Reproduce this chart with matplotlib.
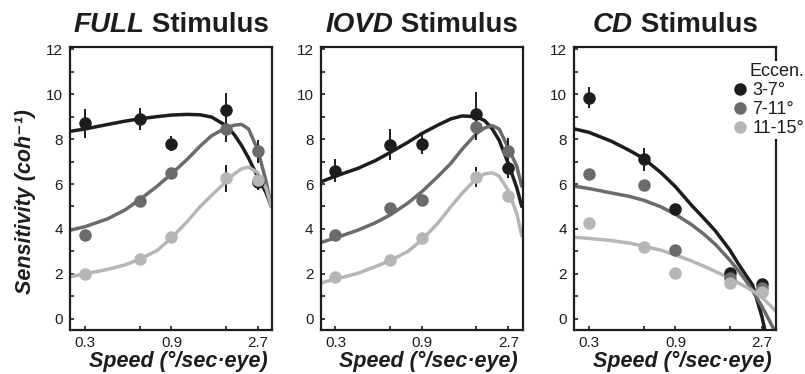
import matplotlib
matplotlib.use("Agg")
import matplotlib.pyplot as plt
from matplotlib.ticker import FixedLocator, NullFormatter, FixedFormatter
from matplotlib.lines import Line2D

plt.rcParams['font.family'] = ['Liberation Sans', 'DejaVu Sans']

# ---------------- data ----------------
speeds = [0.3, 0.6, 0.9, 1.8, 2.7]
ecc_labels = ['3-7°', '7-11°', '11-15°']
panel_names = ['FULL', 'IOVD', 'CD']

full_3_7 = [8.7, 8.9, 7.8, 9.3, 6.1]
full_3_7_err = [0.65, 0.5, 0.35, 0.75, 0.35]
full_7_11 = [3.75, 5.25, 6.5, 8.45, 7.45]
full_7_11_err = [0.15, 0.15, 0.2, 0.6, 0.5]
full_11_15 = [2.0, 2.65, 3.65, 6.25, 6.2]
full_11_15_err = [0.15, 0.15, 0.15, 0.6, 0.2]

iovd_3_7 = [6.6, 7.75, 7.8, 9.1, 6.7]
iovd_3_7_err = [0.5, 0.7, 0.45, 1.0, 0.45]
iovd_7_11 = [3.75, 4.95, 5.3, 8.55, 7.45]
iovd_7_11_err = [0.2, 0.2, 0.2, 0.6, 0.6]
iovd_11_15 = [1.85, 2.6, 3.6, 6.3, 5.45]
iovd_11_15_err = [0.15, 0.15, 0.15, 0.45, 0.2]

cd_3_7 = [9.85, 7.1, 4.87, 2.03, 1.56]
cd_3_7_err = [0.45, 0.5, 0.2, 0.2, 0.2]
cd_7_11 = [6.45, 5.95, 3.07, 1.81, 1.36]
cd_7_11_err = [0.15, 0.15, 0.15, 0.15, 0.15]
cd_11_15 = [4.28, 3.21, 2.03, 1.59, 1.17]
cd_11_15_err = [0.2, 0.1, 0.1, 0.1, 0.1]

# fitted curves
fit_speed = [0.25, 0.3, 0.4, 0.5, 0.6, 0.75, 0.9, 1.1, 1.3, 1.5, 1.8, 2.0, 2.2, 2.4, 2.7, 3.0, 3.2]

full_fit_3_7 = [8.35, 8.45, 8.65, 8.8, 8.9, 9.0, 9.07, 9.1, 9.08, 8.98, 8.6, 8.2, 7.7, 7.15, 6.3, 5.6, 5.0]
full_fit_7_11 = [3.95, 4.1, 4.45, 4.85, 5.3, 5.9, 6.45, 7.1, 7.7, 8.15, 8.5, 8.62, 8.65, 8.45, 7.5, 6.1, 5.0]
full_fit_11_15 = [1.88, 2.0, 2.2, 2.4, 2.65, 3.04, 3.6, 4.33, 5.0, 5.5, 6.1, 6.45, 6.68, 6.75, 6.5, 5.8, 5.0]

iovd_fit_3_7 = [6.1, 6.35, 6.7, 7.05, 7.4, 7.85, 8.25, 8.62, 8.9, 9.03, 9.0, 8.82, 8.45, 7.95, 6.9, 5.85, 5.0]
iovd_fit_7_11 = [3.4, 3.6, 3.95, 4.28, 4.62, 5.14, 5.66, 6.33, 6.92, 7.55, 8.25, 8.5, 8.6, 8.45, 7.6, 6.8, 5.9]
iovd_fit_11_15 = [1.6, 1.76, 2.03, 2.33, 2.59, 2.99, 3.51, 4.25, 4.99, 5.59, 6.25, 6.45, 6.5, 6.35, 5.7, 4.7, 3.7]

cd_fit_3_7 = [8.45, 8.3, 7.9, 7.5, 7.14, 6.5, 5.88, 5.07, 4.45, 3.9, 3.05, 2.45, 1.95, 1.5, 0.1, -1.6, -3.0]
cd_fit_7_11 = [5.9, 5.8, 5.6, 5.45, 5.28, 4.98, 4.65, 4.2, 3.75, 3.3, 2.6, 2.15, 1.7, 1.25, 0.55, -0.15, -0.6]
cd_fit_11_15 = [3.63, 3.58, 3.48, 3.37, 3.24, 3.05, 2.84, 2.58, 2.33, 2.1, 1.8, 1.6, 1.42, 1.25, 0.95, 0.6, 0.35]

x_major = [0.3, 0.9, 2.7]
x_major_labels = ['0.3', '0.9', '2.7']
x_minor = [0.6, 1.8]
y_major = [0, 2, 4, 6, 8, 10, 12]
y_minor = [1, 3, 5, 7, 9, 11]

panels = [
    ([full_3_7, full_7_11, full_11_15], [full_3_7_err, full_7_11_err, full_11_15_err],
     [full_fit_3_7, full_fit_7_11, full_fit_11_15]),
    ([iovd_3_7, iovd_7_11, iovd_11_15], [iovd_3_7_err, iovd_7_11_err, iovd_11_15_err],
     [iovd_fit_3_7, iovd_fit_7_11, iovd_fit_11_15]),
    ([cd_3_7, cd_7_11, cd_11_15], [cd_3_7_err, cd_7_11_err, cd_11_15_err],
     [cd_fit_3_7, cd_fit_7_11, cd_fit_11_15]),
]

# ---------------- style ----------------
W, H = 805, 374
colors = ['#1e1c1d', '#6b6b6d', '#b5b6b8']
ink = '#1e1c1d'
lefts_px = [70, 320.5, 574]
width_px = 202
top_px, bottom_px = 47, 330

fig = plt.figure(figsize=(W / 100, H / 100), dpi=100)
renderer = fig.canvas.get_renderer()

axes = []
for i, (vals, errs, fits) in enumerate(panels):
    ax = fig.add_axes([lefts_px[i] / W, (H - bottom_px) / H, width_px / W, (bottom_px - top_px) / H])
    axes.append(ax)
    ax.set_xscale('log')
    for c, f in zip(colors, fits):
        ax.plot(fit_speed, f, color=c, lw=2.5, zorder=2, solid_capstyle='round')
    for c, v, e in zip(colors, vals, errs):
        ax.errorbar(speeds, v, yerr=e, fmt='none', ecolor=ink, elinewidth=1.4, capsize=0, zorder=3)
        ax.plot(speeds, v, 'o', ms=9, color=c, mec=c, mew=0, zorder=4)
    ax.set_xlim(0.248, 3.23)
    ax.set_ylim(-0.5, 12.1)
    ax.xaxis.set_major_locator(FixedLocator(x_major))
    ax.xaxis.set_major_formatter(FixedFormatter(x_major_labels))
    ax.xaxis.set_minor_locator(FixedLocator(x_minor))
    ax.xaxis.set_minor_formatter(NullFormatter())
    ax.yaxis.set_major_locator(FixedLocator(y_major))
    ax.yaxis.set_minor_locator(FixedLocator(y_minor))
    ax.tick_params(which='both', direction='in', length=3, width=1.2, color=ink,
                   labelsize=11, labelcolor=ink)
    ax.tick_params(axis='y', pad=5)
    ax.tick_params(axis='x', pad=4)
    for s in ax.spines.values():
        s.set_linewidth(1.6)
        s.set_color(ink)

    # x label
    cx = lefts_px[i] + width_px / 2
    fig.text((cx + 7) / W, (H - 361) / H, 'Speed (°/sec·eye)', fontsize=15.5,
             fontweight='bold', style='italic', ha='center', va='center', color=ink)

    # title: italic word + " Stimulus", centered together
    t1 = fig.text(0, 0, panel_names[i], fontsize=20, fontweight='bold', style='italic',
                  ha='left', va='baseline', color=ink)
    t2 = fig.text(0, 0, ' Stimulus', fontsize=20, fontweight='bold',
                  ha='left', va='baseline', color=ink)
    w1 = t1.get_window_extent(renderer).width
    w2 = t2.get_window_extent(renderer).width
    start = cx - (w1 + w2) / 2
    yb = (H - 32) / H
    t1.set_position((start / W, yb))
    t2.set_position(((start + w1) / W, yb))

fig.text(25 / W, (H - 202) / H, 'Sensitivity (coh⁻¹)', rotation=90, fontsize=15.5,
         fontweight='bold', style='italic', ha='center', va='center', color=ink)

handles = [Line2D([], [], marker='o', ls='none', ms=9, color=c, mew=0) for c in colors]
leg = axes[2].legend(handles, ecc_labels, title='Eccen.', loc='upper right',
                     bbox_to_anchor=((806 - lefts_px[2]) / width_px, (bottom_px - 61) / (bottom_px - top_px)),
                     fontsize=13, title_fontsize=13, frameon=True, fancybox=False,
                     handlelength=0.7, handletextpad=0.35, labelspacing=0.12,
                     borderpad=0.1, borderaxespad=0, alignment='right')
leg.get_frame().set_edgecolor('none')
leg.get_frame().set_facecolor('white')
leg.get_frame().set_alpha(1)
for t in leg.get_texts():
    t.set_color(ink)
leg.get_title().set_color(ink)
leg.set_zorder(10)

fig.savefig('out.png', dpi=100)
